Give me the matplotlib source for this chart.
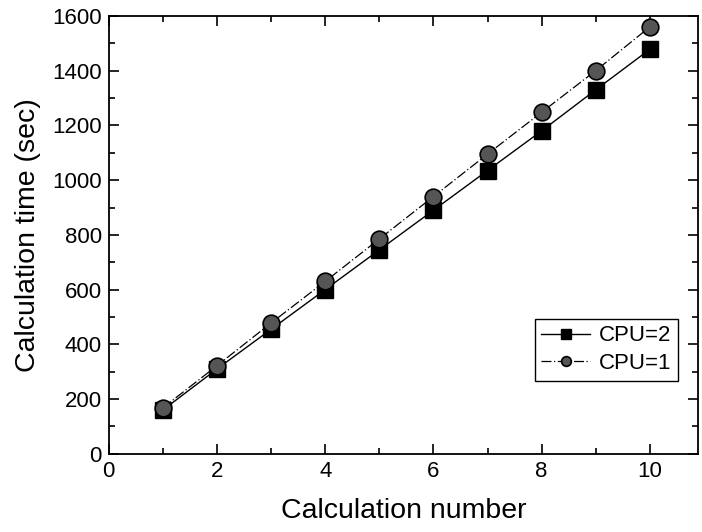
import matplotlib
matplotlib.use("Agg")
import matplotlib.pyplot as plt
from matplotlib.ticker import MultipleLocator

plt.rcParams['font.family'] = ['Liberation Sans', 'DejaVu Sans']

calc_number = [1, 2, 3, 4, 5, 6, 7, 8, 9, 10]
time_cpu2 = [160, 310, 455, 600, 745, 890, 1035, 1180, 1330, 1478]
time_cpu1 = [168, 322, 478, 630, 785, 940, 1095, 1248, 1400, 1560]

fig = plt.figure(figsize=(7.02, 5.32), dpi=100)
ax = fig.add_axes([0.155, 0.147, 0.84, 0.823])

ax.plot(calc_number, time_cpu2, '-', color='black', lw=1.0,
        marker='s', ms=12, mfc='black', mec='black', label='CPU=2')
ax.plot(calc_number, time_cpu1, linestyle=(0, (8, 2, 1, 2)), color='black', lw=0.9,
        marker='o', ms=12, mfc='#555555', mec='black', mew=1.2, label='CPU=1')

ax.set_xlim(0, 10.9)
ax.set_ylim(0, 1600)
ax.xaxis.set_major_locator(MultipleLocator(2))
ax.xaxis.set_minor_locator(MultipleLocator(1))
ax.yaxis.set_major_locator(MultipleLocator(200))
ax.yaxis.set_minor_locator(MultipleLocator(100))
ax.tick_params(which='both', direction='in', top=True, right=True, labelsize=16, width=1.2)
ax.tick_params(which='major', length=7, pad=5)
ax.tick_params(which='minor', length=4)
for s in ax.spines.values():
    s.set_linewidth(1.3)

ax.set_xlabel('Calculation number', fontsize=20.5, labelpad=12)
ax.set_ylabel('Calculation time (sec)', fontsize=20.5, labelpad=8)

leg = ax.legend(loc='lower right', bbox_to_anchor=(0.966, 0.167), fontsize=16,
                fancybox=False, edgecolor='black', framealpha=1,
                handlelength=2.2, borderpad=0.3, labelspacing=0.3, handletextpad=0.4,
                borderaxespad=0)
leg.get_frame().set_linewidth(1.0)
for h in leg.legend_handles:
    h.set_markersize(7)

fig.savefig('out.png', dpi=100)
